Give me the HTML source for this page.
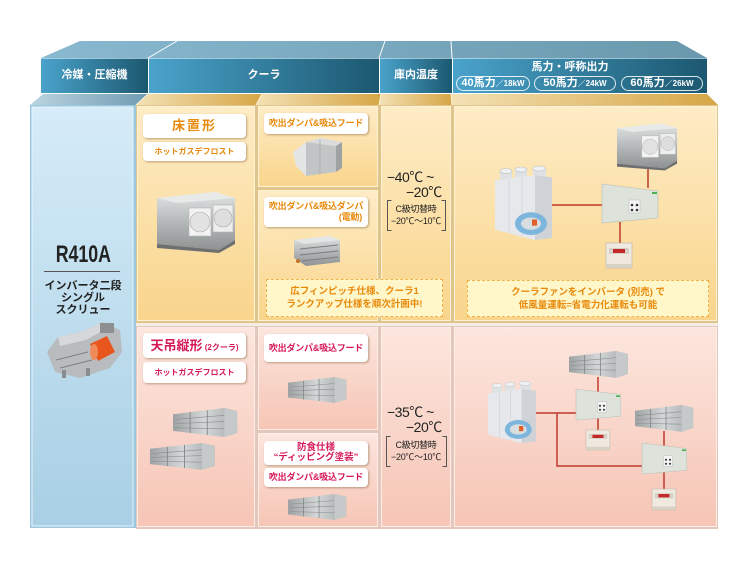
<!DOCTYPE html>
<html><head><meta charset="utf-8">
<style>
html,body{margin:0;padding:0;background:#fff;}
body{width:750px;height:574px;position:relative;overflow:hidden;font-family:"Liberation Sans","Noto Sans CJK JP",sans-serif;}
.t{position:absolute;white-space:nowrap;}
.c{text-align:center;}
.h{color:#fff;font-weight:bold;font-size:11px;line-height:14px;}
.pill{position:absolute;top:76px;height:13px;border:1px solid rgba(255,255,255,.85);border-radius:8px;color:#fff;font-weight:bold;font-size:11px;line-height:13px;text-align:center;white-space:nowrap;}
.pill small{font-size:8px;}
.lbl{position:absolute;background:#fff;border-radius:4px;box-shadow:1px 1px 2px rgba(110,70,30,.45);text-align:center;font-weight:bold;white-space:nowrap;}
.o{color:#e8890a;}
.r{color:#d6185a;}
.note{position:absolute;background:#fff6c9;border:1px dashed #f0b24a;color:#e8890a;font-weight:bold;font-size:9.5px;line-height:13px;text-align:center;white-space:nowrap;box-sizing:border-box;padding-top:5px;}
.tmp{position:absolute;font-size:14px;color:#222;white-space:nowrap;line-height:16px;letter-spacing:-0.5px;}
.sm{position:absolute;font-size:9px;color:#222;white-space:nowrap;line-height:11px;text-align:center;letter-spacing:-0.3px;}
</style></head>
<body>
<svg width="750" height="574" style="position:absolute;left:0;top:0">
<defs>
<linearGradient id="hf" x1="0" x2="1" y1="0" y2="0"><stop offset="0" stop-color="#4aa3cb"/><stop offset="1" stop-color="#1c5870"/></linearGradient>
<linearGradient id="ht" x1="0" x2="1"><stop offset="0" stop-color="#88b9d0"/><stop offset="1" stop-color="#6a98ad"/></linearGradient>
<linearGradient id="bt" x1="0" x2="1"><stop offset="0" stop-color="#bcd4e0"/><stop offset="1" stop-color="#6f9bb2"/></linearGradient>
<linearGradient id="tt" x1="0" x2="1"><stop offset="0" stop-color="#f3e1b5"/><stop offset="1" stop-color="#d6a645"/></linearGradient>
<linearGradient id="tan" x1="0" y1="0" x2="0" y2="1"><stop offset="0" stop-color="#feecc6"/><stop offset="1" stop-color="#f9d58c"/></linearGradient>
<linearGradient id="pink" x1="0" y1="0" x2="0" y2="1"><stop offset="0" stop-color="#fce6de"/><stop offset="1" stop-color="#f6c5b5"/></linearGradient>
<linearGradient id="blue" x1="0" y1="0" x2="0" y2="1"><stop offset="0" stop-color="#d6ecf8"/><stop offset="1" stop-color="#a8cfe4"/></linearGradient>
<linearGradient id="sv" x1="0" y1="0" x2="0" y2="1"><stop offset="0" stop-color="#e2e4e4"/><stop offset=".5" stop-color="#b6babb"/><stop offset="1" stop-color="#8e9293"/></linearGradient>
<linearGradient id="svh" x1="0" y1="0" x2="1" y2="0"><stop offset="0" stop-color="#9ea2a3"/><stop offset=".5" stop-color="#d4d7d8"/><stop offset="1" stop-color="#a4a8a9"/></linearGradient>
<g id="fc">
 <polygon points="0,8 58,2 78,8 78,50 62,60 0,54" fill="url(#sv)"/>
 <polygon points="0,8 58,2 78,8 20,13" fill="#e8eaea"/>
 <polygon points="0,54 62,60 78,50 78,54 62,63 0,58" fill="#6d6f70"/>
 <rect x="32" y="18" width="22" height="28" fill="#f3f3f3" stroke="#b5b5b5" stroke-width=".6"/>
 <rect x="56" y="15" width="20" height="27" fill="#eeeeee" stroke="#b5b5b5" stroke-width=".6"/>
 <circle cx="43" cy="32" r="10" fill="#e2e2e2" stroke="#aaa" stroke-width=".6"/>
 <circle cx="66" cy="28" r="9" fill="#dedede" stroke="#aaa" stroke-width=".6"/>
</g>
<g id="cc">
 <polygon points="0,6 48,0 60,3 60,24 48,28 0,22" fill="url(#svh)"/>
 <polygon points="48,0 60,3 60,24 48,28" fill="#c6c9ca"/>
 <line x1="2" y1="11" x2="48" y2="7" stroke="#8a8e8f" stroke-width=".6"/>
 <line x1="2" y1="15" x2="48" y2="13" stroke="#8a8e8f" stroke-width=".6"/>
 <line x1="2" y1="19" x2="48" y2="20" stroke="#8a8e8f" stroke-width=".6"/>
 <line x1="16" y1="4" x2="16" y2="24" stroke="#7f8384" stroke-width=".8"/>
 <line x1="32" y1="2" x2="32" y2="26" stroke="#7f8384" stroke-width=".8"/>
</g>
<g id="ou">
 <rect x="5" y="3" width="12" height="9" fill="#dfe2e5"/><ellipse cx="11" cy="3" rx="6" ry="2.5" fill="#eef0f2" stroke="#bbb" stroke-width=".5"/>
 <rect x="20" y="1" width="12" height="9" fill="#dfe2e5"/><ellipse cx="26" cy="1.5" rx="6" ry="2.5" fill="#eef0f2" stroke="#bbb" stroke-width=".5"/>
 <rect x="38" y="0" width="13" height="9" fill="#dfe2e5"/><ellipse cx="44" cy="0.5" rx="6.5" ry="2.5" fill="#eef0f2" stroke="#bbb" stroke-width=".5"/>
 <polygon points="0,12 40,7 40,70 0,60" fill="#e6e8ec"/>
 <polygon points="40,7 57,9 57,68 40,70" fill="#cfd2d6"/>
 <line x1="14" y1="11" x2="14" y2="63" stroke="#c8cbd0" stroke-width=".6"/>
 <line x1="27" y1="9" x2="27" y2="66" stroke="#c8cbd0" stroke-width=".6"/>
 <ellipse cx="36" cy="54" rx="16" ry="11" fill="#7db6dd"/>
 <ellipse cx="36" cy="54" rx="10" ry="6" fill="#d8dde0"/>
 <rect x="37" y="50" width="5" height="6" fill="#e0602a"/>
</g>
<g id="pn">
 <polygon points="0,0 56,7 56,34 0,39" fill="#dde2da" stroke="#b8bdb5" stroke-width=".6"/>
 <rect x="50" y="8" width="5" height="2" fill="#4caf50"/>
 <rect x="27" y="16" width="11" height="13" fill="#f4f4f4" stroke="#bbb" stroke-width=".5"/>
 <circle cx="30" cy="21" r="1.3" fill="#333"/><circle cx="35" cy="21" r="1.3" fill="#333"/>
 <circle cx="30" cy="26" r="1.3" fill="#333"/><circle cx="35" cy="26" r="1.3" fill="#333"/>
</g>
<g id="ct">
 <rect x="0" y="0" width="26" height="25" fill="#efe9df" stroke="#b8b2a8" stroke-width=".6"/>
 <rect x="3" y="5" width="20" height="6" fill="#d4d0c8"/>
 <rect x="7" y="6" width="12" height="4" fill="#c62828"/>
 <rect x="0" y="21" width="26" height="4" fill="#d7d1c6"/>
</g>
</defs>

<polygon points="41,58 80,41 677,41 707,58" fill="url(#ht)"/>
<line x1="148" y1="58" x2="177" y2="41" stroke="#fff" stroke-width="1"/>
<line x1="379" y1="58" x2="385" y2="41" stroke="#fff" stroke-width="1"/>
<line x1="452" y1="58" x2="451" y2="41" stroke="#fff" stroke-width="1"/>
<rect x="41" y="58" width="107" height="35" fill="url(#hf)"/>
<rect x="149" y="58" width="230" height="35" fill="url(#hf)"/>
<rect x="380" y="58" width="72" height="35" fill="url(#hf)"/>
<rect x="453" y="58" width="254" height="35" fill="url(#hf)"/>
<line x1="41" y1="58.5" x2="707" y2="58.5" stroke="#cfe6f1" stroke-width="1" opacity=".7"/>

<polygon points="30,105 43,94 148,94 136,105" fill="url(#bt)"/>
<polygon points="136,105 148,94 262,94 256,105" fill="url(#tt)"/>
<polygon points="256,105 262,94 381,94 379,105" fill="url(#tt)"/>
<polygon points="379,105 381,94 451,94 452,105" fill="url(#tt)"/>
<polygon points="452,105 451,94 707,94 718,105" fill="url(#tt)"/>
<line x1="136" y1="105" x2="148" y2="94" stroke="#fbf1da" stroke-width="1"/>
<line x1="256" y1="105" x2="262" y2="94" stroke="#fbf1da" stroke-width="1"/>
<line x1="379" y1="105" x2="381" y2="94" stroke="#fbf1da" stroke-width="1"/>
<line x1="452" y1="105" x2="451" y2="94" stroke="#fbf1da" stroke-width="1"/>

<rect x="30" y="105" width="106" height="423" fill="#9cc8df"/>
<rect x="32" y="107" width="101" height="419" fill="url(#blue)" stroke="#e6f3fb" stroke-width="1"/>

<rect x="136" y="105" width="582" height="218" fill="#dfc48c"/>
<rect x="137.5" y="106.5" width="117" height="214" fill="url(#tan)" stroke="#fdf1d6"/>
<rect x="258.5" y="106.5" width="119" height="80" fill="url(#tan)" stroke="#fdf1d6"/>
<rect x="258.5" y="190.5" width="119" height="130" fill="url(#tan)" stroke="#fdf1d6"/>
<rect x="381.5" y="106.5" width="69" height="214" fill="url(#tan)" stroke="#fdf1d6"/>
<rect x="454.5" y="106.5" width="262" height="214" fill="url(#tan)" stroke="#fdf1d6"/>

<rect x="136" y="323" width="582" height="3" fill="#f5ece6"/>

<rect x="136" y="326" width="582" height="203" fill="#e4c7bc"/>
<rect x="137.5" y="327.5" width="117" height="199" fill="url(#pink)" stroke="#fdeee8"/>
<rect x="258.5" y="327.5" width="119" height="102" fill="url(#pink)" stroke="#fdeee8"/>
<rect x="258.5" y="433.5" width="119" height="93" fill="url(#pink)" stroke="#fdeee8"/>
<rect x="381.5" y="327.5" width="69" height="199" fill="url(#pink)" stroke="#fdeee8"/>
<rect x="454.5" y="327.5" width="262" height="199" fill="url(#pink)" stroke="#fdeee8"/>

<g>
 <polygon points="47,352 58,337 84,331 102,322 120,330 122,352 110,368 80,378 55,372" fill="#b9bcbe"/>
 <polygon points="58,337 84,331 102,322 104,330 86,340 60,346" fill="#d6d8d9"/>
 <polygon points="90,344 107,336 115,352 98,361" fill="#e8561e"/>
 <ellipse cx="94" cy="352" rx="4" ry="8" fill="#f08a5a"/>
 <rect x="100" y="323" width="14" height="10" fill="#8d9092"/>
 <line x1="56" y1="360" x2="88" y2="352" stroke="#7d8082" stroke-width="1"/>
 <line x1="60" y1="368" x2="92" y2="360" stroke="#7d8082" stroke-width="1"/>
 <rect x="62" y="370" width="4" height="8" fill="#8a8d8f"/><rect x="86" y="368" width="4" height="8" fill="#8a8d8f"/>
</g>

<use href="#fc" transform="translate(157,190)"/>
<polygon points="306,142 336,146 336,172 306,176" fill="#c2c5c6"/>
<polygon points="293,152 306,142 306,176 296,166" fill="#e4e6e6"/>
<polygon points="306,142 320,138 342,142 336,146" fill="#d9dbdc"/>
<polygon points="336,146 342,142 342,168 336,172" fill="#9ea2a3"/>
<line x1="320" y1="140" x2="320" y2="174" stroke="#a7abac" stroke-width=".8"/>
<polygon points="294,240 330,236 340,240 340,262 306,266 294,258" fill="url(#sv)"/>
<polygon points="294,240 330,236 340,240 304,244" fill="#e4e6e6"/>
<line x1="300" y1="249" x2="338" y2="245" stroke="#7a7e7f" stroke-width="1"/>
<line x1="300" y1="255" x2="338" y2="251" stroke="#7a7e7f" stroke-width="1"/>
<line x1="302" y1="261" x2="338" y2="257" stroke="#7a7e7f" stroke-width="1"/>
<circle cx="298" cy="261" r="2" fill="#c07030"/>

<g stroke="#c0392b" stroke-width="1.5" fill="none">
 <line x1="552" y1="205" x2="602" y2="205"/>
 <line x1="648" y1="168" x2="648" y2="188"/>
 <line x1="620" y1="222" x2="620" y2="244"/>
</g>
<use href="#fc" transform="translate(617,122) scale(.77,.77)"/>
<use href="#ou" transform="translate(495,168) scale(1,1.03)"/>
<use href="#pn" transform="translate(602,184) scale(1,1)"/>
<use href="#ct" transform="translate(606,243)"/>

<use href="#cc" transform="translate(173,408) scale(1.07,1.04)"/>
<use href="#cc" transform="translate(150,443) scale(1.08,.96)"/>
<use href="#cc" transform="translate(288,377) scale(.97,.93)"/>
<use href="#cc" transform="translate(288,494) scale(.97,.93)"/>

<g stroke="#c0392b" stroke-width="1.5" fill="none">
 <polyline points="536,413 576,413"/>
 <polyline points="557,413 557,466 642,466"/>
 <line x1="598" y1="377" x2="598" y2="392"/>
 <line x1="598" y1="418" x2="598" y2="431"/>
 <line x1="664" y1="431" x2="664" y2="446"/>
 <line x1="664" y1="472" x2="664" y2="490"/>
</g>
<use href="#cc" transform="translate(569,351) scale(.98,.96)"/>
<use href="#cc" transform="translate(635,405) scale(.97,.96)"/>
<use href="#ou" transform="translate(488,383) scale(.84,.86)"/>
<use href="#pn" transform="translate(576,389) scale(.8,.8)"/>
<use href="#pn" transform="translate(642,443) scale(.8,.8)"/>
<use href="#ct" transform="translate(586,430) scale(.92,.8)"/>
<use href="#ct" transform="translate(652,489) scale(.92,.84)"/>

<g stroke="#555" stroke-width="1" fill="none">
 <path d="M391.5,200.5 H387.5 V230.5 H391.5"/>
 <path d="M441.5,200.5 H445.5 V230.5 H441.5"/>
 <path d="M390.5,436.5 H386.5 V466.5 H390.5"/>
 <path d="M442.5,436.5 H446.5 V466.5 H442.5"/>
</g>
<line x1="44" y1="271.5" x2="120" y2="271.5" stroke="#555" stroke-width="1"/>
</svg>

<div class="t c h" style="left:41px;width:107px;top:68px;">冷媒・圧縮機</div>
<div class="t c h" style="left:149px;width:230px;top:68px;">クーラ</div>
<div class="t c h" style="left:380px;width:72px;top:68px;">庫内温度</div>
<div class="t c h" style="left:500px;width:140px;top:60px;">馬力・呼称出力</div>
<div class="pill" style="left:456px;width:72px;">40馬力<small>／18kW</small></div>
<div class="pill" style="left:534px;width:80px;">50馬力<small>／24kW</small></div>
<div class="pill" style="left:621px;width:80px;">60馬力<small>／26kW</small></div>

<div class="t c" style="left:30px;width:106px;top:241px;font-weight:bold;font-size:24px;line-height:28px;color:#222;"><span style="display:inline-block;transform:scaleX(0.74);transform-origin:center;">R410A</span></div>
<div class="t c" style="left:30px;width:106px;top:280px;font-weight:bold;font-size:11px;line-height:12px;color:#222;">インバータ二段<br>シングル<br>スクリュー</div>

<div class="lbl o" style="left:143px;top:114px;width:103px;height:24px;line-height:24px;font-size:13px;letter-spacing:2px;">床置形</div>
<div class="lbl o" style="left:143px;top:142px;width:103px;height:19px;line-height:19px;font-size:8px;">ホットガスデフロスト</div>
<div class="lbl o" style="left:264px;top:113px;width:104px;height:21px;line-height:21px;font-size:9px;letter-spacing:-0.2px;">吹出ダンパ&amp;吸込フード</div>
<div class="lbl o" style="left:264px;top:197px;width:104px;height:30px;font-size:9px;line-height:11px;letter-spacing:-0.2px;box-sizing:border-box;padding-top:4px;">吹出ダンパ&amp;吸込ダンパ<div style="text-align:right;padding-right:6px;">(電動)</div></div>
<div class="note" style="left:266px;top:279px;width:177px;height:38px;">広フィンピッチ仕様、クーラ1<br>ランクアップ仕様を順次計画中!</div>
<div class="note" style="left:467px;top:280px;width:242px;height:37px;">クーラファンをインバータ (別売) で<br>低風量運転=省電力化運転も可能</div>

<div class="tmp" style="left:387px;top:169px;">−40℃ ~</div>
<div class="tmp" style="left:406px;top:184px;">−20℃</div>
<div class="sm" style="left:387px;width:58px;top:204px;">C級切替時</div>
<div class="sm" style="left:387px;width:58px;top:216px;">−20℃～10℃</div>

<div class="lbl r" style="left:143px;top:333px;width:103px;height:25px;line-height:25px;font-size:13px;">天吊縦形<span style="font-size:8px;"> (2クーラ)</span></div>
<div class="lbl r" style="left:143px;top:362px;width:103px;height:21px;line-height:21px;font-size:8px;">ホットガスデフロスト</div>
<div class="lbl r" style="left:264px;top:334px;width:104px;height:28px;line-height:28px;font-size:9px;letter-spacing:-0.2px;">吹出ダンパ&amp;吸込フード</div>
<div class="lbl r" style="left:264px;top:441px;width:104px;height:24px;font-size:9.5px;line-height:10px;box-sizing:border-box;padding-top:2px;">防食仕様<br>“ディッピング塗装”</div>
<div class="lbl r" style="left:264px;top:468px;width:104px;height:19px;line-height:19px;font-size:9px;letter-spacing:-0.2px;">吹出ダンパ&amp;吸込フード</div>

<div class="tmp" style="left:387px;top:404px;">−35℃ ~</div>
<div class="tmp" style="left:406px;top:419px;">−20℃</div>
<div class="sm" style="left:386px;width:60px;top:440px;">C級切替時</div>
<div class="sm" style="left:386px;width:60px;top:452px;">−20℃～10℃</div>
</body></html>
